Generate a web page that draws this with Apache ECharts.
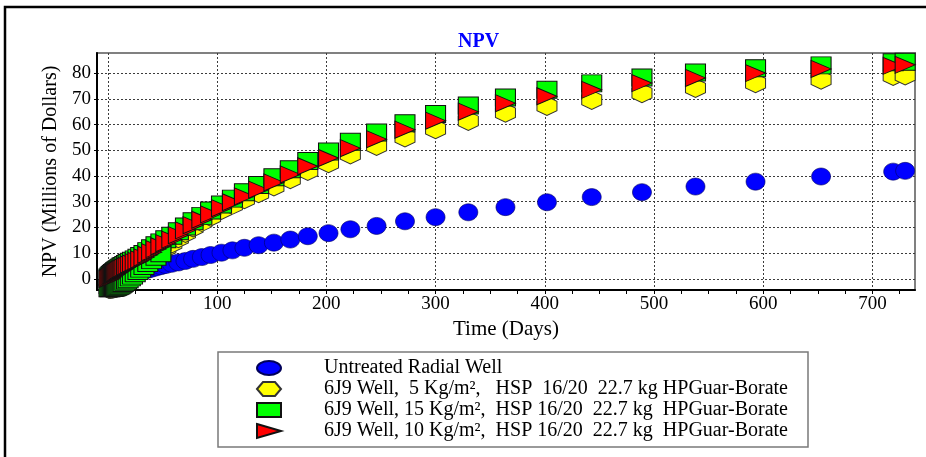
<!DOCTYPE html>
<html><head><meta charset="utf-8">
<script src="https://cdn.jsdelivr.net/npm/echarts@6/dist/echarts.min.js"></script>
<style>html,body{margin:0;padding:0;background:#fff}#c{width:926px;height:457px}</style>
</head><body><div id="c"></div>
<script>
const days = [1, 2, 3, 4, 5, 6, 7, 8, 9, 10, 11, 12, 13, 14, 15.5, 17, 18.5, 20.5, 22.5, 25, 27.5, 30, 33, 36.5, 40, 44, 48.5, 53, 58.5, 64.5, 71, 78, 86, 94, 104, 114, 125, 138, 152, 167, 183, 202, 222, 246, 272, 300, 330, 364, 402, 443, 489, 538, 593, 653, 719, 730];
const untreated = [0.1, 0.2, 0.3, 0.4, 0.5, 0.6, 0.7, 0.8, 0.9, 1.0, 1.1, 1.2, 1.3, 1.4, 1.55, 1.7, 1.85, 2.05, 2.25, 2.5, 2.7, 2.95, 3.2, 3.6, 4.0, 4.45, 4.95, 5.4, 5.9, 6.4, 7.0, 7.8, 8.5, 9.3, 10.2, 11.1, 12.1, 13.1, 14.1, 15.3, 16.6, 17.8, 19.3, 20.6, 22.4, 24.0, 25.9, 27.9, 29.8, 31.8, 33.7, 35.9, 37.8, 39.8, 41.7, 42.0];
const kg5 = [-3.9, -3.9, -3.8, -3.8, -3.7, -3.6, -3.5, -3.4, -3.2, -3.0, -2.8, -2.5, -2.2, -1.9, -1.4, -0.9, -0.4, 0.3, 1.0, 1.9, 2.8, 3.7, 4.7, 5.9, 7.0, 8.3, 9.7, 12.0, 13.8, 15.8, 17.9, 20.0, 22.1, 24.2, 26.8, 28.8, 31.0, 33.3, 35.9, 38.8, 42.0, 45.0, 48.4, 51.7, 55.0, 58.2, 61.4, 64.6, 67.2, 69.6, 72.2, 74.2, 76.1, 77.4, 78.9, 79.1];
const kg15 = [0.6, 1.1, 1.5, 1.9, 2.3, 2.6, 3.0, 3.3, 3.6, 3.9, 4.2, 4.5, 4.8, 5.0, 5.4, 5.8, 6.2, 6.7, 7.1, 7.6, 8.2, 8.9, 9.7, 10.8, 11.9, 13.1, 14.2, 15.4, 16.8, 18.5, 20.4, 22.4, 24.5, 26.6, 28.9, 31.2, 33.7, 36.5, 39.5, 42.6, 45.8, 49.5, 53.3, 56.9, 60.5, 64.1, 67.4, 70.5, 73.5, 76.0, 78.3, 80.2, 81.9, 83.0, 84.2, 84.4];
// second (lower) band of 15 Kg/m² squares visible at early times
const kg15EarlyDays = [1, 2, 3, 4, 5, 6, 7, 8, 9, 10, 11, 12, 13, 14, 15.5, 17, 18.5, 20.5, 22.5, 25, 27.5, 30, 33, 36.5, 40, 44, 48.5];
const kg15Early = [-3.6, -3.6, -3.5, -3.5, -3.4, -3.3, -3.2, -3.1, -2.9, -2.7, -2.5, -2.2, -1.9, -1.6, -1.1, -0.6, -0.1, 0.6, 1.3, 2.2, 3.1, 4.0, 5.0, 6.2, 7.3, 8.6, 10.0];
const kg10 = [0.0, 0.4, 0.8, 1.2, 1.5, 1.8, 2.1, 2.4, 2.7, 3.0, 3.3, 3.5, 3.8, 4.0, 4.4, 4.8, 5.1, 5.6, 6.0, 6.5, 7.0, 7.6, 8.4, 9.4, 10.4, 11.6, 12.7, 13.9, 15.3, 17.0, 18.9, 20.9, 23.0, 25.1, 27.5, 29.8, 32.1, 34.7, 37.5, 40.6, 43.8, 47.0, 50.8, 54.3, 58.0, 61.5, 65.0, 68.3, 71.0, 73.5, 76.1, 78.1, 80.0, 81.6, 82.8, 83.2];
const seriesNames = ['Untreated Radial Well',
  '6J9 Well,  5 Kg/m\u00B2,   HSP  16/20  22.7 kg HPGuar-Borate',
  '6J9 Well, 15 Kg/m\u00B2,  HSP 16/20  22.7 kg  HPGuar-Borate',
  '6J9 Well, 10 Kg/m\u00B2,  HSP 16/20  22.7 kg  HPGuar-Borate'];
const xMajorTicks = [0, 100, 200, 300, 400, 500, 600, 700];
const xLabels = [100, 200, 300, 400, 500, 600, 700];
const xAllTicks = [0, 25, 50, 75, 100, 125, 150, 175, 200, 225, 250, 275, 300, 325, 350, 375, 400, 425, 450, 475, 500, 525, 550, 575, 600, 625, 650, 675, 700, 725];
const yTicks = [0, 10, 20, 30, 40, 50, 60, 70, 80];

const F = '"Liberation Serif", "Times New Roman", serif';
const ELLIPSE = 'path://M0,1 C0,0.448 0.448,0 1,0 C1.552,0 2,0.448 2,1 C2,1.552 1.552,2 1,2 C0.448,2 0,1.552 0,1 Z';
const HEX_V = 'path://M1,0 L2,0.5 L2,1.5 L1,2 L0,1.5 L0,0.5 Z';
const HEX_H = 'path://M0,1 L0.5,0 L1.5,0 L2,1 L1.5,2 L0.5,2 Z';
const TRI = 'path://M0,0 L2,1 L0,2 Z';
const pts = (xs, arr) => xs.map((d, i) => [d, arr[i]]);
const gridDash = { color: '#3c3c3c', width: 1, type: [2, 2] };

const chart = echarts.init(document.getElementById('c'), null, { renderer: 'canvas' });
chart.setOption({
  animation: false,
  backgroundColor: '#fff',
  title: { text: 'NPV', left: 453, top: 27, textStyle: { color: '#0000ff', fontFamily: F, fontSize: 20, fontWeight: 'bold' } },
  grid: { left: 97, right: 11, top: 53, bottom: 167, show: true, borderColor: '#808080', borderWidth: 2, backgroundColor: 'transparent' },
  xAxis: [{
    type: 'value', min: -10, max: 739, position: 'bottom',
    name: 'Time (Days)', nameLocation: 'middle', nameGap: 27,
    nameTextStyle: { fontFamily: F, fontSize: 21, color: '#000' },
    axisLine: { onZero: false, lineStyle: { color: '#000', width: 2 } },
    axisTick: { customValues: xAllTicks, length: 4, lineStyle: { color: '#000', width: 1 } },
    axisLabel: { customValues: xLabels, fontFamily: F, fontSize: 19, color: '#000', margin: 5 },
    splitLine: { show: false }
  }, {
    type: 'value', min: -10, max: 739, position: 'top',
    axisLine: { show: false }, axisLabel: { show: false },
    axisTick: { show: false, customValues: xMajorTicks },
    splitLine: { show: true, lineStyle: gridDash }
  }],
  yAxis: {
    type: 'value', min: -4.3, max: 87.8,
    name: 'NPV (Millions of Dollars)', nameLocation: 'middle', nameGap: 35,
    nameTextStyle: { fontFamily: F, fontSize: 20, color: '#000' },
    axisLine: { onZero: false, lineStyle: { color: '#000', width: 2 } },
    axisTick: { customValues: yTicks, length: 3, lineStyle: { color: '#000' } },
    axisLabel: { customValues: yTicks, fontFamily: F, fontSize: 19, color: '#000', margin: 6 },
    splitLine: { show: true, lineStyle: gridDash }
  },
  legend: {
    orient: 'vertical', left: 256, top: 358, padding: 0, itemGap: 1,
    itemWidth: 24, itemHeight: 14, symbolKeepAspect: false,
    textStyle: { fontFamily: F, fontSize: 20, color: '#000', lineHeight: 20, padding: [0, 0, 0, 38] },
    data: [
      { name: seriesNames[0], icon: ELLIPSE },
      { name: seriesNames[1], icon: HEX_H },
      { name: seriesNames[2], icon: 'rect' },
      { name: seriesNames[3], icon: TRI }
    ]
  },
  graphic: [
    { type: 'polyline', shape: { points: [[5, 457], [5, 7], [926, 7]] }, style: { stroke: '#000', lineWidth: 2.5, fill: null }, z: 100 },
    { type: 'rect', shape: { x: 218, y: 352, width: 590, height: 95 }, style: { fill: 'none', stroke: '#7a7a7a', lineWidth: 1.5 }, z: -1 }
  ],
  series: [
    { name: seriesNames[0], type: 'scatter', data: pts(days, untreated), symbol: ELLIPSE, symbolSize: [19, 17], symbolKeepAspect: false,
      itemStyle: { color: '#0000ff', borderColor: '#00005a', borderWidth: 0.6, opacity: 1 } },
    { name: seriesNames[1], type: 'scatter', data: pts(days, kg5), symbol: HEX_V, symbolSize: [20, 19], symbolKeepAspect: false,
      itemStyle: { color: '#ffff00', borderColor: '#333', borderWidth: 1, opacity: 1 } },
    { name: seriesNames[2], type: 'scatter', data: pts(days, kg15).concat(pts(kg15EarlyDays, kg15Early)), symbol: 'rect', symbolSize: [20, 17],
      itemStyle: { color: '#00ff00', borderColor: '#111', borderWidth: 1, opacity: 1 } },
    { name: seriesNames[3], type: 'scatter', data: pts(days, kg10), symbol: TRI, symbolSize: [20, 17], symbolKeepAspect: false,
      itemStyle: { color: '#ff0000', borderColor: '#111', borderWidth: 1, opacity: 1 } }
  ]
});
</script></body></html>
